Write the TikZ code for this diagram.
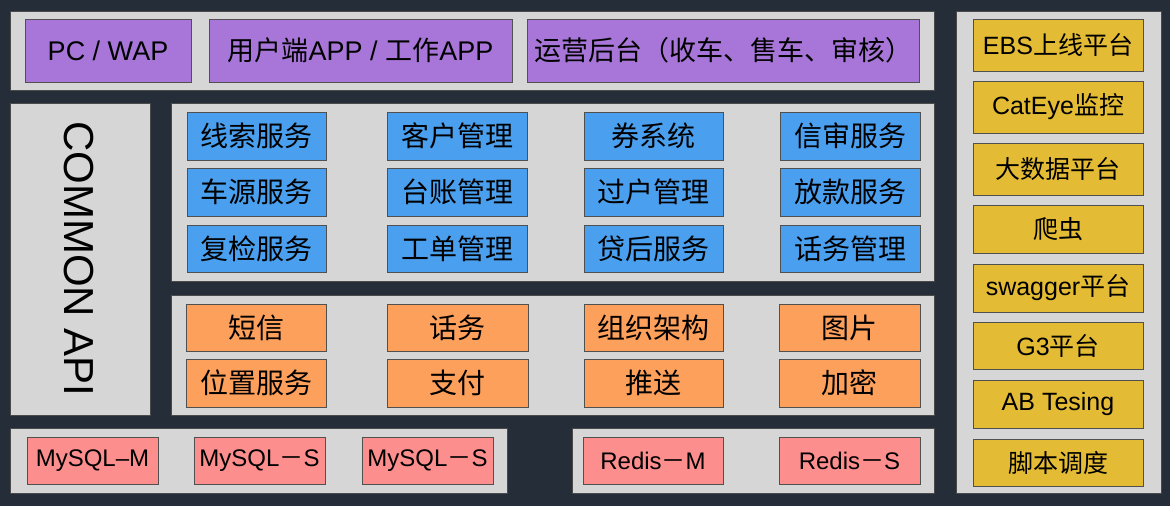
\documentclass[tikz,border=0pt]{standalone}
\usepackage{fontspec}
\setmainfont{Liberation Sans}
\newfontfamily\cjk{Noto Sans CJK SC}
\definecolor{bgdark}{HTML}{252E38}
\definecolor{panelgrey}{HTML}{D6D6D6}
\definecolor{panelline}{HTML}{4A4A4A}
\definecolor{purplebox}{HTML}{A776D8}
\definecolor{bluebox}{HTML}{4A9FEF}
\definecolor{orangebox}{HTML}{FDA05C}
\definecolor{pinkbox}{HTML}{FD8E8E}
\definecolor{yellowbox}{HTML}{E4BB34}
\definecolor{boxline}{HTML}{505050}
\tikzset{
  panel/.style={draw=panelline, fill=panelgrey, line width=0.8pt, inner sep=0pt},
  boxbase/.style={draw=boxline, line width=0.9pt, inner sep=0pt, text=black},
  purplestyle/.style={boxbase, fill=purplebox, font=\fontsize{27}{30}\selectfont},
  bluestyle/.style={boxbase, fill=bluebox, font=\fontsize{28}{30}\selectfont},
  orangestyle/.style={boxbase, fill=orangebox, font=\fontsize{28}{30}\selectfont},
  pinkstyle/.style={boxbase, fill=pinkbox, font=\fontsize{24}{28}\selectfont},
  yellowstyle/.style={boxbase, fill=yellowbox, font=\fontsize{25}{28}\selectfont},
}
% \bx{style}{name}{x1}{y1}{x2}{y2}{text}
\newcommand\bx[7]{%
  \node[#1, minimum width={(#5-#3)*1pt}, minimum height={(#6-#4)*1pt}]
    (#2) at ({(#3+#5)/2},{(#4+#6)/2}) {#7};}
\begin{document}
\begin{tikzpicture}[x=1pt,y=-1pt]
\fill[bgdark] (0,0) rectangle (1170,506);
\useasboundingbox (0,0) rectangle (1170,506);

% panels
\bx{panel}{ptop}{10}{11}{934}{90}{}
\bx{panel}{pcommon}{10}{103}{150}{415}{}
\bx{panel}{pblue}{171}{103}{934}{281}{}
\bx{panel}{porange}{171}{295}{934}{415}{}
\bx{panel}{pmysql}{10}{428}{507}{493}{}
\bx{panel}{predis}{572}{428}{934}{493}{}
\bx{panel}{pright}{956}{11}{1161}{493}{}

\node[rotate=-90, font=\fontsize{42}{44}\selectfont, inner sep=0pt] (commonapi) at (79,259) {COMMON API};

% top row
\bx{purplestyle}{pc}{25}{19}{191}{82}{PC / WAP}
\bx{purplestyle}{app}{209}{19}{512}{82}{{\cjk 用户端}APP / {\cjk 工作}APP}
\bx{purplestyle}{ops}{527}{19}{919}{82}{{\cjk 运营后台（收车、售车、审核）}}

% blue services
\bx{bluestyle}{b11}{187}{112}{326}{160}{\cjk 线索服务}
\bx{bluestyle}{b12}{387}{112}{527}{160}{\cjk 客户管理}
\bx{bluestyle}{b13}{584}{112}{723}{160}{\cjk 券系统}
\bx{bluestyle}{b14}{780}{112}{920}{160}{\cjk 信审服务}
\bx{bluestyle}{b21}{187}{168}{326}{216}{\cjk 车源服务}
\bx{bluestyle}{b22}{387}{168}{527}{216}{\cjk 台账管理}
\bx{bluestyle}{b23}{584}{168}{723}{216}{\cjk 过户管理}
\bx{bluestyle}{b24}{780}{168}{920}{216}{\cjk 放款服务}
\bx{bluestyle}{b31}{187}{225}{326}{272}{\cjk 复检服务}
\bx{bluestyle}{b32}{387}{225}{527}{272}{\cjk 工单管理}
\bx{bluestyle}{b33}{584}{225}{723}{272}{\cjk 贷后服务}
\bx{bluestyle}{b34}{780}{225}{920}{272}{\cjk 话务管理}

% orange base services
\bx{orangestyle}{o11}{186}{304}{326}{351}{\cjk 短信}
\bx{orangestyle}{o12}{387}{304}{528}{351}{\cjk 话务}
\bx{orangestyle}{o13}{584}{304}{723}{351}{\cjk 组织架构}
\bx{orangestyle}{o14}{779}{304}{920}{351}{\cjk 图片}
\bx{orangestyle}{o21}{186}{359}{326}{407}{\cjk 位置服务}
\bx{orangestyle}{o22}{387}{359}{528}{407}{\cjk 支付}
\bx{orangestyle}{o23}{584}{359}{723}{407}{\cjk 推送}
\bx{orangestyle}{o24}{779}{359}{920}{407}{\cjk 加密}

% storage
\bx{pinkstyle}{m1}{27}{437}{158}{484}{MySQL–M}
\bx{pinkstyle}{m2}{194}{437}{325}{484}{MySQL{\cjk －}S}
\bx{pinkstyle}{m3}{362}{437}{493}{484}{MySQL{\cjk －}S}
\bx{pinkstyle}{r1}{583}{437}{723}{484}{Redis{\cjk －}M}
\bx{pinkstyle}{r2}{779}{437}{920}{484}{Redis{\cjk －}S}

% right tools
\bx{yellowstyle}{y1}{973}{19}{1143}{71}{EBS{\cjk 上线平台}}
\bx{yellowstyle}{y2}{973}{81}{1143}{133}{CatEye{\cjk 监控}}
\bx{yellowstyle}{y3}{973}{143}{1143}{195}{\cjk 大数据平台}
\bx{yellowstyle}{y4}{973}{205}{1143}{253}{\cjk 爬虫}
\bx{yellowstyle}{y5}{973}{264}{1143}{312}{swagger{\cjk 平台}}
\bx{yellowstyle}{y6}{973}{322}{1143}{369}{G3{\cjk 平台}}
\bx{yellowstyle}{y7}{973}{380}{1143}{428}{AB Tesing}
\bx{yellowstyle}{y8}{973}{439}{1143}{486}{\cjk 脚本调度}
\end{tikzpicture}
\end{document}
